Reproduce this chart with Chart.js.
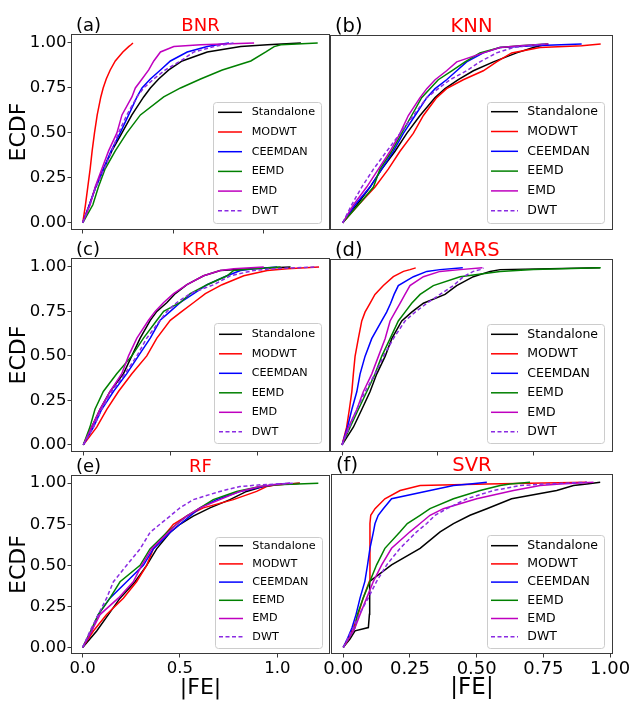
<!DOCTYPE html>
<html>
<head>
<meta charset="utf-8">
<script src="https://cdn.jsdelivr.net/npm/chart.js@4.4.1/dist/chart.umd.min.js"></script>
<style>
    html, body { margin: 0; padding: 0; background: #fff; }
    body { width: 631px; height: 702px; position: relative; overflow: hidden; }
    canvas { position: absolute; }
</style>
</head>
<body>
<script>
const methods = ["Standalone", "MODWT", "CEEMDAN", "EEMD", "EMD", "DWT"];
const lineColors = ["#000000", "#ff0000", "#0000ff", "#008000", "#bf00bf", "#8a2be2"];

const ecdfLevels = [0, 0.1, 0.2, 0.3, 0.4, 0.5, 0.6, 0.7, 0.75, 0.8, 0.85, 0.9, 0.95, 0.98, 0.99, 1.0];
const svrLevels = [0, 0.05, 0.1, 0.12, 0.2, 0.3, 0.4, 0.5, 0.6, 0.7, 0.75, 0.8, 0.84, 0.9, 0.95, 0.98, 0.99, 1.0];

// |FE| reached at each ECDF level, one row per method
const bnrFE = [
    [0, 0.037, 0.072, 0.115, 0.161, 0.217, 0.272, 0.337, 0.374, 0.420, 0.476, 0.550, 0.689, 0.874, 1.022, 1.207],
    [0, 0.015, 0.028, 0.041, 0.052, 0.065, 0.080, 0.100, 0.113, 0.130, 0.152, 0.180, 0.222, 0.254, 0.267, 0.278],
    [0, 0.037, 0.072, 0.115, 0.157, 0.207, 0.254, 0.300, 0.328, 0.374, 0.430, 0.485, 0.578, 0.689, 0.744, 0.809],
    [0, 0.056, 0.087, 0.124, 0.180, 0.244, 0.319, 0.448, 0.541, 0.652, 0.772, 0.930, 1.013, 1.059, 1.096, 1.300],
    [0, 0.041, 0.069, 0.106, 0.143, 0.189, 0.217, 0.272, 0.291, 0.328, 0.365, 0.393, 0.430, 0.504, 0.652, 0.948],
    [0, 0.037, 0.074, 0.119, 0.161, 0.198, 0.244, 0.300, 0.337, 0.393, 0.457, 0.541, 0.615, 0.726, 0.781, 0.837]
];
const knnFE = [
    [0, 0.071, 0.138, 0.197, 0.264, 0.323, 0.390, 0.466, 0.516, 0.583, 0.659, 0.760, 0.877, 0.961, 0.995, 1.037],
    [0, 0.079, 0.163, 0.230, 0.289, 0.356, 0.407, 0.474, 0.524, 0.608, 0.709, 0.776, 0.852, 0.995, 1.205, 1.301],
    [0, 0.062, 0.138, 0.197, 0.255, 0.306, 0.365, 0.424, 0.466, 0.524, 0.575, 0.625, 0.709, 0.793, 0.961, 1.205],
    [0, 0.079, 0.155, 0.188, 0.247, 0.297, 0.348, 0.398, 0.440, 0.482, 0.550, 0.617, 0.692, 0.793, 0.894, 1.029],
    [0, 0.054, 0.121, 0.180, 0.239, 0.289, 0.331, 0.390, 0.424, 0.466, 0.524, 0.575, 0.709, 0.793, 0.894, 1.037],
    [0, 0.045, 0.096, 0.155, 0.222, 0.289, 0.356, 0.424, 0.482, 0.541, 0.625, 0.692, 0.776, 0.861, 0.928, 1.029]
];
const krrFE = [
    [0, 0.048, 0.096, 0.154, 0.231, 0.279, 0.327, 0.385, 0.423, 0.481, 0.529, 0.596, 0.692, 0.788, 0.962, 1.192],
    [0, 0.077, 0.135, 0.202, 0.279, 0.365, 0.423, 0.500, 0.567, 0.635, 0.702, 0.798, 0.923, 1.058, 1.173, 1.356],
    [0, 0.058, 0.106, 0.173, 0.250, 0.317, 0.385, 0.442, 0.500, 0.558, 0.635, 0.712, 0.827, 0.904, 0.981, 1.115],
    [0, 0.038, 0.067, 0.115, 0.192, 0.279, 0.346, 0.423, 0.462, 0.558, 0.615, 0.712, 0.827, 0.865, 0.981, 1.135],
    [0, 0.048, 0.096, 0.154, 0.221, 0.260, 0.308, 0.375, 0.413, 0.462, 0.519, 0.596, 0.692, 0.788, 0.865, 1.038],
    [0, 0.058, 0.106, 0.163, 0.240, 0.308, 0.365, 0.442, 0.481, 0.538, 0.615, 0.750, 0.846, 0.981, 1.096, 1.346]
];
const marsFE = [
    [0, 0.059, 0.103, 0.146, 0.181, 0.225, 0.260, 0.312, 0.364, 0.425, 0.538, 0.599, 0.686, 0.774, 0.826, 1.348],
    [0, 0.024, 0.038, 0.051, 0.059, 0.068, 0.085, 0.103, 0.120, 0.146, 0.172, 0.216, 0.268, 0.321, 0.355, 0.385],
    [0, 0.028, 0.051, 0.077, 0.094, 0.120, 0.155, 0.207, 0.233, 0.254, 0.272, 0.294, 0.373, 0.443, 0.512, 0.631],
    [0, 0.042, 0.085, 0.129, 0.172, 0.207, 0.251, 0.294, 0.329, 0.364, 0.408, 0.477, 0.617, 0.826, 1.000, 1.352],
    [0, 0.033, 0.077, 0.111, 0.155, 0.190, 0.225, 0.251, 0.277, 0.303, 0.329, 0.355, 0.425, 0.512, 0.617, 0.733],
    [0, 0.038, 0.077, 0.120, 0.172, 0.216, 0.268, 0.329, 0.382, 0.443, 0.512, 0.582, 0.634, 0.686, 0.721, 0.739]
];
const rfFE = [
    [0, 0.072, 0.132, 0.192, 0.269, 0.329, 0.380, 0.449, 0.500, 0.568, 0.654, 0.757, 0.842, 0.928, 0.997, 1.116],
    [0, 0.055, 0.123, 0.209, 0.277, 0.329, 0.363, 0.432, 0.466, 0.534, 0.620, 0.774, 0.894, 0.945, 0.997, 1.116],
    [0, 0.046, 0.080, 0.140, 0.226, 0.312, 0.363, 0.449, 0.500, 0.551, 0.603, 0.688, 0.808, 0.928, 0.979, 1.065],
    [0, 0.041, 0.080, 0.140, 0.192, 0.295, 0.346, 0.432, 0.483, 0.534, 0.603, 0.671, 0.791, 0.911, 0.997, 1.211],
    [0, 0.046, 0.089, 0.183, 0.260, 0.303, 0.354, 0.440, 0.483, 0.534, 0.603, 0.705, 0.808, 0.911, 0.979, 1.065],
    [0, 0.038, 0.080, 0.123, 0.158, 0.226, 0.295, 0.346, 0.397, 0.449, 0.500, 0.568, 0.705, 0.808, 0.911, 1.082]
];
const svrFE = [
    [0, 0.025, 0.044, 0.094, 0.098, 0.098, 0.100, 0.181, 0.288, 0.363, 0.413, 0.475, 0.538, 0.631, 0.800, 0.863, 0.913, 0.963],
    [0, 0.019, 0.031, 0.038, 0.056, 0.075, 0.098, 0.100, 0.100, 0.100, 0.100, 0.103, 0.119, 0.156, 0.213, 0.288, 0.538, 0.913],
    [0, 0.015, 0.028, 0.033, 0.048, 0.063, 0.081, 0.091, 0.100, 0.113, 0.119, 0.131, 0.150, 0.181, 0.325, 0.413, 0.475, 0.538],
    [0, 0.019, 0.038, 0.044, 0.053, 0.075, 0.100, 0.125, 0.156, 0.213, 0.240, 0.288, 0.325, 0.413, 0.513, 0.588, 0.625, 0.700],
    [0, 0.019, 0.038, 0.044, 0.063, 0.088, 0.113, 0.144, 0.181, 0.250, 0.288, 0.325, 0.375, 0.500, 0.638, 0.738, 0.813, 0.938],
    [0, 0.015, 0.031, 0.038, 0.060, 0.094, 0.125, 0.163, 0.213, 0.275, 0.313, 0.344, 0.388, 0.463, 0.563, 0.663, 0.763, 0.913]
];

const yTicks = [0, 0.25, 0.5, 0.75, 1.0];
const halfTicks = [0, 0.5, 1.0];
const quarterTicks = [0, 0.25, 0.5, 0.75, 1.0];

const panels = [
    { tag: "(a)", name: "BNR", fe: bnrFE, levels: ecdfLevels, col: 0, row: 0, plot: [71, 34, 330, 230], x: [-0.065, 1.368], ticks: halfTicks,
      legend: { box: [213, 102, 321, 223], first: 112.3, step: 19.7, line: [218, 242], text: 251.7 } },
    { tag: "(b)", name: "KNN", fe: knnFE, levels: ecdfLevels, col: 1, row: 0, plot: [330, 35, 613, 230], x: [-0.064, 1.363], ticks: [],
      legend: { box: [487, 102, 604, 223], first: 111.7, step: 19.8, line: [491, 518], text: 527.3 } },
    { tag: "(c)", name: "KRR", fe: krrFE, levels: ecdfLevels, col: 0, row: 1, plot: [71, 258, 330, 452], x: [-0.071, 1.419], ticks: halfTicks,
      legend: { box: [214, 323, 321, 443], first: 334.3, step: 19.5, line: [219, 242], text: 251.7 } },
    { tag: "(d)", name: "MARS", fe: marsFE, levels: ecdfLevels, col: 1, row: 1, plot: [330, 259, 613, 452], x: [-0.063, 1.416], ticks: halfTicks,
      legend: { box: [487, 324, 604, 443], first: 334.3, step: 19.5, line: [491, 518], text: 527.3 } },
    { tag: "(e)", name: "RF", fe: rfFE, levels: ecdfLevels, col: 0, row: 2, plot: [71, 475, 330, 654], x: [-0.060, 1.271], ticks: halfTicks, digits: 1,
      legend: { box: [215, 537, 322, 648], first: 545.7, step: 18.2, line: [219, 243], text: 252.3 } },
    { tag: "(f)", name: "SVR", fe: svrFE, levels: svrLevels, col: 1, row: 2, plot: [331, 474, 613, 654], x: [-0.046, 1.011], ticks: quarterTicks, digits: 2,
      legend: { box: [487, 535, 604, 648], first: 545.7, step: 18.2, line: [491, 518], text: 527.3 } }
];

const fontes = [
    { tick: 16.5, title: 18, legend: 11.2, axis: 22 },
    { tick: 18, title: 19.5, legend: 12.5, axis: 23 }
];

function criarDecoracao(p, f) {
    return {
        id: "decoracao",
        afterDatasetsDraw(chart) {
            const ctx = chart.ctx;
            const area = chart.chartArea;
            const dx = area.left - p.plot[0];
            const dy = area.top - p.plot[1];
            const [l, t, r, b] = p.plot;

            ctx.save();
            ctx.strokeStyle = "#3a3a3a";
            ctx.lineWidth = 1;
            ctx.strokeRect(l + dx + 0.5, t + dy + 0.5, r - l - 1, b - t - 1);

            const lg = p.legend;
            const bx = lg.box[0] + dx, by = lg.box[1] + dy;
            const bw = lg.box[2] - lg.box[0], bh = lg.box[3] - lg.box[1];
            ctx.beginPath();
            ctx.roundRect(bx + 0.5, by + 0.5, bw, bh, 3);
            ctx.fillStyle = "rgba(255,255,255,0.8)";
            ctx.fill();
            ctx.strokeStyle = "#cccccc";
            ctx.stroke();

            ctx.font = f.legend + "px 'DejaVu Sans'";
            ctx.textBaseline = "middle";
            ctx.textAlign = "left";
            methods.forEach((m, i) => {
                const y = lg.first + i * lg.step + dy;
                ctx.beginPath();
                ctx.setLineDash(i === 5 ? [4, 2.5] : []);
                ctx.strokeStyle = lineColors[i];
                ctx.lineWidth = 1.5;
                ctx.moveTo(lg.line[0] + dx, y);
                ctx.lineTo(lg.line[1] + dx, y);
                ctx.stroke();
                ctx.fillStyle = "#000";
                ctx.fillText(m, lg.text + dx, y);
            });
            ctx.setLineDash([]);

            ctx.textBaseline = "alphabetic";
            ctx.font = f.title + "px 'DejaVu Sans'";
            ctx.fillStyle = "#000";
            ctx.fillText(p.tag, l + 5 + dx, t - 3.5 + dy);
            ctx.textAlign = "center";
            ctx.fillStyle = "#ff0000";
            ctx.fillText(p.name, (l + r) / 2 + dx, t - 3.5 + dy);

            ctx.fillStyle = "#000";
            ctx.font = f.axis + "px 'DejaVu Sans'";
            if (p.col === 0) {
                ctx.save();
                ctx.translate(19 + dx, (t + b) / 2 + dy);
                ctx.rotate(-Math.PI / 2);
                ctx.textBaseline = "middle";
                ctx.fillText("ECDF", 0, 0);
                ctx.restore();
            }
            if (p.row === 2) {
                ctx.fillText("|FE|", (l + r) / 2 + dx, 694 + dy);
            }
            ctx.restore();
        }
    };
}

function criarPainel(p) {
    const f = fontes[p.col];
    const [l, t, r, b] = p.plot;
    const padL = p.col === 0 ? 71 : 30;
    const padR = p.col === 0 ? 6 : 18;
    const padT = p.row === 0 ? t : 30;
    const padB = p.row === 2 ? 702 - b : 8;
    const largura = padL + (r - l) + padR;
    const altura = padT + (b - t) + padB;

    const canvas = document.createElement("canvas");
    canvas.width = largura;
    canvas.height = altura;
    canvas.style.width = largura + "px";
    canvas.style.height = altura + "px";
    canvas.style.left = (l - padL) + "px";
    canvas.style.top = (t - padT) + "px";
    document.body.appendChild(canvas);

    return new Chart(canvas, {
        type: "line",
        data: {
            datasets: methods.map((m, i) => ({
                label: m,
                data: p.fe[i].map((fe, k) => ({ x: fe, y: p.levels[k] })),
                borderColor: lineColors[i],
                borderWidth: 1.5,
                borderDash: i === 5 ? [4, 2.5] : [],
                pointRadius: 0,
                tension: 0,
                order: methods.length - i
            }))
        },
        options: {
            responsive: false,
            animation: false,
            events: [],
            layout: { padding: { left: 0, right: padR, top: padT, bottom: 0 } },
            plugins: { legend: { display: false }, tooltip: { enabled: false } },
            scales: {
                x: {
                    type: "linear",
                    bounds: "data",
                    min: p.x[0],
                    max: p.x[1],
                    afterBuildTicks: s => { s.ticks = p.ticks.map(v => ({ value: v })); },
                    afterFit: s => { s.height = padB; s.paddingLeft = 0; s.paddingRight = 0; },
                    border: { display: false },
                    grid: { drawOnChartArea: false, drawTicks: true, tickLength: 3.5, color: "#3a3a3a" },
                    ticks: {
                        display: p.row === 2,
                        autoSkip: false,
                        maxRotation: 0,
                        padding: 1,
                        color: "#000",
                        font: { family: "DejaVu Sans", size: f.tick },
                        callback: v => Number(v).toFixed(p.digits || 1)
                    }
                },
                y: {
                    type: "linear",
                    bounds: "data",
                    min: -0.04,
                    max: 1.05,
                    afterBuildTicks: s => { s.ticks = yTicks.map(v => ({ value: v })); },
                    afterFit: s => { s.width = padL; s.paddingTop = 0; s.paddingBottom = 0; },
                    border: { display: false },
                    grid: { display: p.col === 0, drawOnChartArea: false, drawTicks: true, tickLength: 3.5, color: "#3a3a3a" },
                    ticks: {
                        display: p.col === 0,
                        padding: 1,
                        color: "#000",
                        font: { family: "DejaVu Sans", size: f.tick },
                        callback: v => Number(v).toFixed(2)
                    }
                }
            }
        },
        plugins: [criarDecoracao(p, f)]
    });
}

panels.forEach(criarPainel);
</script>
</body>
</html>
